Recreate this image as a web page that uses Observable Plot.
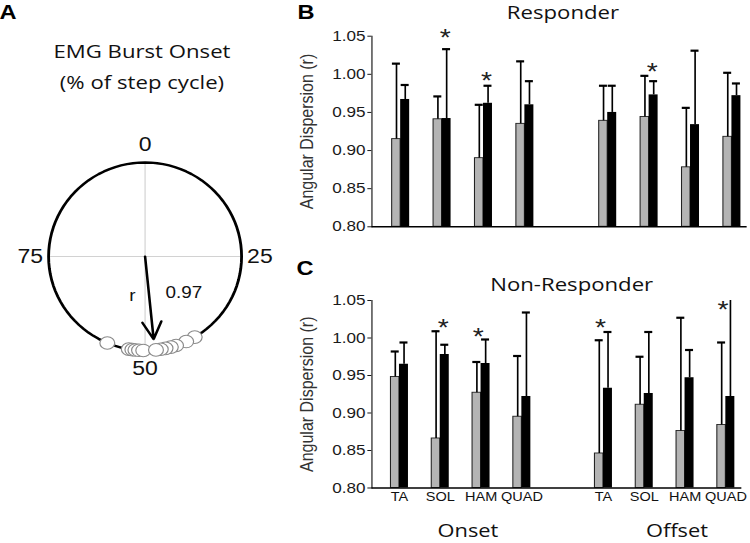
<!DOCTYPE html>
<html><head><meta charset="utf-8">
<script src="https://cdn.jsdelivr.net/npm/d3@7"></script>
<script src="https://cdn.jsdelivr.net/npm/@observablehq/plot@0.6"></script>
<style>
html,body{margin:0;padding:0;background:#fff;}
#wrap{position:relative;width:636px;height:543px;transform:scaleX(1.18);transform-origin:0 0;}
.lbl{position:absolute;white-space:nowrap;transform:translate(-50%,-50%);line-height:1.15;color:#111;}
svg{position:absolute;overflow:visible;}
</style></head><body><div id="wrap"></div><script>
// ---------- data ----------
const muscles = ["TA", "SOL", "HAM", "QUAD"];
const phases = ["Onset", "Offset"];
const yDomain = [0.80, 1.05];
const yTicks = [0.80, 0.85, 0.90, 0.95, 1.00, 1.05];

// Responder (B): gray = pre, black = post; order TA SOL HAM QUAD (onset) then TA SOL HAM QUAD (offset)
const respPreMean  = [0.915, 0.941, 0.890, 0.935, 0.939, 0.944, 0.878, 0.918];
const respPreSD    = [0.099, 0.030, 0.070, 0.082, 0.046, 0.054, 0.078, 0.084];
const respPostMean = [0.967, 0.942, 0.962, 0.960, 0.950, 0.973, 0.934, 0.972];
const respPostSD   = [0.019, 0.091, 0.023, 0.031, 0.035, 0.018, 0.097, 0.016];
const respStars = [
  {slot: "Onset SOL", over: "post", y: 1.055},
  {slot: "Onset HAM", over: "post", y: 0.999},
  {slot: "Offset SOL", over: "post", y: 1.010}
];

// Non-Responder (C)
const nonPreMean  = [0.948, 0.866, 0.927, 0.895, 0.846, 0.911, 0.876, 0.884];
const nonPreSD    = [0.034, 0.143, 0.041, 0.081, 0.151, 0.064, 0.151, 0.110];
const nonPostMean = [0.965, 0.978, 0.966, 0.922, 0.933, 0.926, 0.947, 0.922];
const nonPostSD   = [0.029, 0.013, 0.032, 0.112, 0.075, 0.082, 0.037, 0.135];
const nonStars = [
  {slot: "Onset SOL", over: "post", y: 1.021},
  {slot: "Onset HAM", over: "pre", y: 1.009},
  {slot: "Offset TA", over: "pre", y: 1.021},
  {slot: "Offset QUAD", over: "pre", y: 1.045}
];

// Panel A: EMG burst onsets (% of step cycle)
const onsetPct = [56.4, 52.7, 52.1, 51.6, 51.0, 50.3, 41.4, 43.0, 44.8, 45.7, 46.6, 47.4, 48.2];
const meanVector = {angle: 48.4, r: 0.97};
const cycleTicks = [0, 25, 50, 75];

// ---------- layout ----------
const SX = 1.18;
const wrap = document.getElementById("wrap");
const SANS = "'Liberation Sans', Arial, sans-serif";
const TITLE = "'Open Sans', sans-serif";

function label(text, cx, cy, css) {
  const d = document.createElement("div");
  d.className = "lbl";
  d.textContent = text;
  d.style.left = (cx / SX) + "px";
  d.style.top = cy + "px";
  Object.assign(d.style, css);
  wrap.appendChild(d);
}

const slots = [...muscles.map(m => "Onset " + m), "gap", ...muscles.map(m => "Offset " + m)];
const slotOf = i => phases[Math.floor(i / muscles.length)] + " " + muscles[i % muscles.length];
const nameOf = s => s.split(" ")[1];

function rowsFor(preMean, preSD, postMean, postSD) {
  return preMean.map((m, i) => ({slot: slotOf(i), preMean: m, preSD: preSD[i], postMean: postMean[i], postSD: postSD[i]}));
}

function barPanel(cfg) {
  const left = 280;
  const W = (750 - left) / SX;
  const toIn = x => (x - left) / SX;
  const step = cfg.step / SX;
  const r0 = toIn(cfg.firstCenter - cfg.step / 2);
  const range = [r0, r0 + step * slots.length];
  const rows = rowsFor(cfg.preMean, cfg.preSD, cfg.postMean, cfg.postSD);
  const grayW = 8.5 / SX, blackW = 9 / SX, capW = 8 / SX;
  const gOff = -grayW / 2, bOff = blackW / 2;
  const capInset = (step - capW) / 2;
  const yMax = yDomain[1];
  const marks = [
    Plot.barY(rows, {x: "slot", y1: yDomain[0], y2: "preMean", fill: "#b4b4b4", stroke: "#222", strokeWidth: 0.9,
      insetLeft: step / 2 - grayW, insetRight: step / 2}),
    Plot.barY(rows, {x: "slot", y1: yDomain[0], y2: "postMean", fill: "#000",
      insetLeft: step / 2, insetRight: step / 2 - blackW}),
    Plot.ruleX(rows, {x: "slot", y1: "preMean", y2: d => Math.min(d.preMean + d.preSD, yMax), dx: gOff, stroke: "#000", strokeWidth: 1.4}),
    Plot.ruleX(rows, {x: "slot", y1: "postMean", y2: d => Math.min(d.postMean + d.postSD, yMax), dx: bOff, stroke: "#000", strokeWidth: 1.4}),
    Plot.tickY(rows.filter(d => d.preMean + d.preSD <= yMax), {x: "slot", y: d => d.preMean + d.preSD, dx: gOff,
      insetLeft: capInset, insetRight: capInset, stroke: "#000", strokeWidth: 2.2}),
    Plot.tickY(rows.filter(d => d.postMean + d.postSD <= yMax), {x: "slot", y: d => d.postMean + d.postSD, dx: bOff,
      insetLeft: capInset, insetRight: capInset, stroke: "#000", strokeWidth: 2.2}),
    Plot.ruleY([yDomain[0]], {stroke: "#000", strokeWidth: 1.5}),
    Plot.text(cfg.stars.filter(s => s.over === "post"), {x: "slot", y: "y", text: () => "*", dx: 3 / SX, dy: 6, fontSize: 24, fill: "#222"}),
    Plot.text(cfg.stars.filter(s => s.over === "pre"), {x: "slot", y: "y", text: () => "*", dx: -3 / SX, dy: 6, fontSize: 24, fill: "#222"}),
    Plot.text(["Angular Dispersion (r)"], {frameAnchor: "left", textAnchor: "middle", lineAnchor: "middle", rotate: -90,
      dx: toIn(307) - toIn(371.7), fontSize: 16, fill: "#333"})
  ];
  if (cfg.showLabels) {
    marks.push(Plot.text(slots.filter(s => s !== "gap"), {x: d => d, text: nameOf, frameAnchor: "bottom", textAnchor: "middle",
      dy: 13.5, fontSize: 12.3, fill: "#111"}));
  }
  const svg = Plot.plot({
    width: W, height: cfg.height,
    marginLeft: toIn(371.7), marginRight: (750 - cfg.frameRight) / SX,
    marginTop: cfg.y1px - cfg.top, marginBottom: cfg.top + cfg.height - cfg.y0px,
    style: {fontFamily: SANS, fontSize: "14.5px", color: "#1a1a1a", background: "transparent", overflow: "visible"},
    x: {type: "band", domain: slots, range, padding: 0, round: false, axis: null},
    y: {domain: yDomain, ticks: yTicks, tickFormat: d3.format(".2f"), tickSize: 3.4, tickPadding: 2, line: true, label: null},
    marks
  });
  svg.style.left = (left / SX) + "px";
  svg.style.top = cfg.top + "px";
  wrap.appendChild(svg);
}

// ---------- Panel A ----------
const circlePts = d3.range(0, 101);
const ang = p => 2 * Math.PI * p / 100;
const svgA = Plot.plot({
  width: 280 / SX, height: 400,
  style: {fontFamily: SANS, color: "#111", background: "transparent", overflow: "visible"},
  x: {domain: [-1, 1], range: [48 / SX, 241 / SX], axis: null},
  y: {domain: [-1, 1], range: [350, 162], axis: null},
  marks: [
    Plot.ruleX([0], {y1: -1, y2: 1, stroke: "#d2d2d2", strokeWidth: 1}),
    Plot.ruleY([0], {x1: -1, x2: 1, stroke: "#d2d2d2", strokeWidth: 1}),
    Plot.line(circlePts, {x: p => Math.sin(ang(p)), y: p => Math.cos(ang(p)), stroke: "#000", strokeWidth: 2.4}),
    Plot.text(cycleTicks, {x: p => 1.19 * Math.sin(ang(p)), y: p => 1.19 * Math.cos(ang(p)), text: d => String(d), fontSize: 19.5, fill: "#111"}),
    Plot.arrow([meanVector], {x1: 0, y1: 0, x2: d => d.r * Math.sin(ang(d.angle)), y2: d => d.r * Math.cos(ang(d.angle)),
      insetEnd: 8, headLength: 13, headAngle: 50, stroke: "#000", strokeWidth: 2.2}),
    Plot.dot(onsetPct, {x: p => Math.sin(ang(p)), y: p => Math.cos(ang(p)), r: 6.3, fill: "#fff", stroke: "#8a8a8a", strokeWidth: 1}),
    Plot.text([meanVector], {x: d => d.r / 2 * Math.sin(ang(d.angle)), y: d => d.r / 2 * Math.cos(ang(d.angle)),
      text: () => "r", dx: -17.5 / SX, dy: -6.4, fontSize: 16, fill: "#111"}),
    Plot.text([meanVector], {x: d => d.r / 2 * Math.sin(ang(d.angle)), y: d => d.r / 2 * Math.cos(ang(d.angle)),
      text: d => d3.format(".2f")(d.r), dx: 34 / SX, dy: -9.4, fontSize: 16, fill: "#111"})
  ]
});
svgA.style.left = "0px";
svgA.style.top = "0px";
wrap.appendChild(svgA);

// ---------- Panels B & C ----------
barPanel({preMean: respPreMean, preSD: respPreSD, postMean: respPostMean, postSD: respPostSD, stars: respStars,
  top: 0, height: 245, y1px: 35.7, y0px: 226.3, frameRight: 747, firstCenter: 400.5, step: 41.41, showLabels: false});
barPanel({preMean: nonPreMean, preSD: nonPreSD, postMean: nonPostMean, postSD: nonPostSD, stars: nonStars,
  top: 260, height: 283, y1px: 300, y0px: 487.5, frameRight: 741.7, firstCenter: 399.3, step: 40.8, showLabels: true});

// ---------- text ----------
const letter = {fontFamily: SANS, fontWeight: "bold", fontSize: "20px", color: "#000"};
label("A", 8, 12, letter);
label("B", 306, 12, letter);
label("C", 305, 268, letter);
const ttl = {fontFamily: TITLE, fontSize: "18.8px", color: "#111"};
label("EMG Burst Onset", 142, 52, ttl);
label("(% of step cycle)", 142, 83, ttl);
label("Responder", 563, 13, ttl);
label("Non-Responder", 571.7, 285, ttl);
const grp = {fontFamily: TITLE, fontSize: "18.5px", color: "#111"};
label("Onset", 468, 530, grp);
label("Offset", 677, 530, grp);
</script></body></html>
